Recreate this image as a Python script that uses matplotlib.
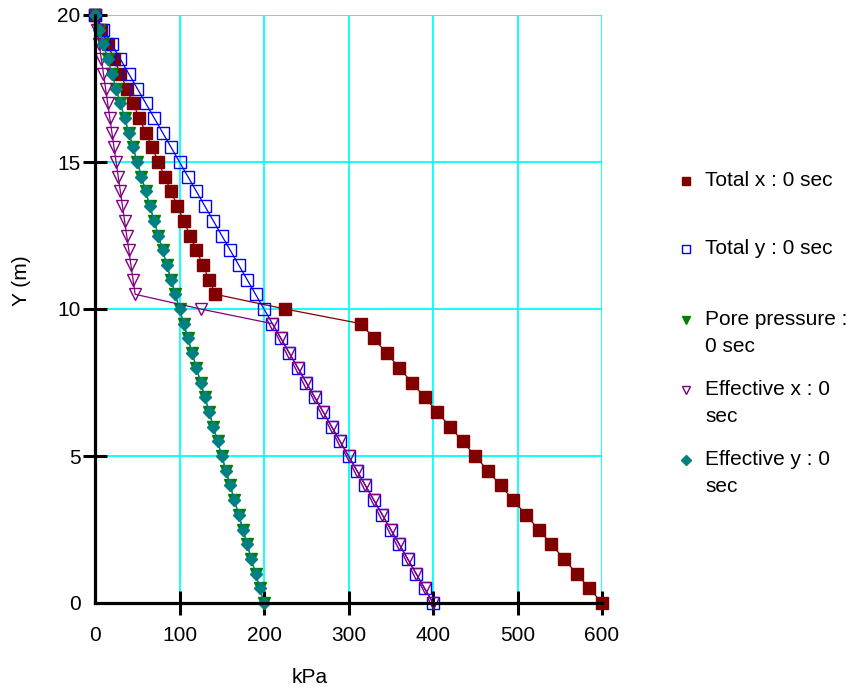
import matplotlib
matplotlib.use("Agg")
import matplotlib.pyplot as plt
from matplotlib.lines import Line2D

# ---------------------------------------------
# Data
# ---------------------------------------------
y_m = [20, 19.5, 19, 18.5, 18, 17.5, 17, 16.5, 16, 15.5, 15, 14.5, 14, 13.5, 13,
       12.5, 12, 11.5, 11, 10.5, 10, 9.5, 9, 8.5, 8, 7.5, 7, 6.5, 6, 5.5, 5,
       4.5, 4, 3.5, 3, 2.5, 2, 1.5, 1, 0.5, 0]

total_x = [0, 7.5, 15, 22.5, 30, 37.5, 45, 52.5, 60, 67.5, 75, 82.5, 90, 97.5, 105,
           112.5, 120, 127.5, 135, 142.5, 225, 315, 330, 345, 360, 375, 390, 405,
           420, 435, 450, 465, 480, 495, 510, 525, 540, 555, 570, 585, 600]

total_y = [0, 10, 20, 30, 40, 50, 60, 70, 80, 90, 100, 110, 120, 130, 140, 150,
           160, 170, 180, 190, 200, 210, 220, 230, 240, 250, 260, 270, 280, 290,
           300, 310, 320, 330, 340, 350, 360, 370, 380, 390, 400]

pore_pressure = [0, 5, 10, 15, 20, 25, 30, 35, 40, 45, 50, 55, 60, 65, 70, 75, 80,
                 85, 90, 95, 100, 105, 110, 115, 120, 125, 130, 135, 140, 145, 150,
                 155, 160, 165, 170, 175, 180, 185, 190, 195, 200]

effective_x = [0, 2.5, 5, 7.5, 10, 12.5, 15, 17.5, 20, 22.5, 25, 27.5, 30, 32.5, 35,
               37.5, 40, 42.5, 45, 47.5, 125, 210, 220, 230, 240, 250, 260, 270,
               280, 290, 300, 310, 320, 330, 340, 350, 360, 370, 380, 390, 400]

effective_y = [0, 5, 10, 15, 20, 25, 30, 35, 40, 45, 50, 55, 60, 65, 70, 75, 80,
               85, 90, 95, 100, 105, 110, 115, 120, 125, 130, 135, 140, 145, 150,
               155, 160, 165, 170, 175, 180, 185, 190, 195, 200]

labels = ["Total x : 0 sec", "Total y : 0 sec", "Pore pressure :\n0 sec",
          "Effective x : 0\nsec", "Effective y : 0\nsec"]

plt.rcParams["font.family"] = ["Liberation Sans", "DejaVu Sans"]

# ---------------------------------------------
# Figure / axes
# ---------------------------------------------
fig = plt.figure(figsize=(8.51, 6.87), dpi=100)
ax = fig.add_axes([95 / 851, 84 / 687, 507 / 851, 588 / 687])

series = [
    (total_x, dict(color="#800000", marker="s", mfc="#800000", mec="#800000", ms=8)),
    (total_y, dict(color="#0000FF", marker="s", mfc="none", mec="#0000FF", ms=8)),
    (pore_pressure, dict(color="#008000", marker="v", mfc="#008000", mec="#008000", ms=8)),
    (effective_x, dict(color="#800080", marker="v", mfc="none", mec="#800080", ms=8)),
    (effective_y, dict(color="#008080", marker="D", mfc="#008080", mec="#008080", ms=6.5)),
]

for vals, st in series:
    ax.plot(vals, y_m, lw=0.9, mew=1.0, clip_on=False, zorder=3, **st)

ax.set_xlim(0, 600)
ax.set_ylim(0, 20)
ax.set_xticks([0, 100, 200, 300, 400, 500, 600])
ax.set_yticks([0, 5, 10, 15, 20])
ax.grid(True, color="#00FFFF", lw=1.3)
ax.set_axisbelow(True)

for side in ["top", "right"]:
    ax.spines[side].set_visible(False)
for side in ["left", "bottom"]:
    ax.spines[side].set_linewidth(2.3)
    ax.spines[side].set_zorder(4)

ax.tick_params(direction="inout", length=17, width=2.2, labelsize=15,
               colors="black")
ax.tick_params(axis="x", pad=8)
ax.tick_params(axis="y", pad=2)
ax.xaxis.get_major_ticks()[0].tick1line.set_visible(False)
ax.yaxis.get_major_ticks()[0].tick1line.set_visible(False)

ax.set_xlabel("kPa", fontsize=15, va="center")
ax.set_ylabel("Y (m)", fontsize=15, va="center")
ax.xaxis.set_label_coords(0.424, -0.126)
ax.yaxis.set_label_coords(-0.144, 0.548)

# ---------------------------------------------
# Legend, placed by hand on the right
# ---------------------------------------------
tops = [181, 249, 320, 390, 460]
for (vals, st), lab, ty in zip(series, labels, tops):
    yf = 1 - ty / 687
    fig.add_artist(Line2D([686 / 851], [yf], lw=0, mew=1.0,
                          transform=fig.transFigure, marker=st["marker"],
                          mfc=st["mfc"], mec=st["mec"], ms=st["ms"] * 0.8,
                          color=st["color"]))
    fig.text(705 / 851, yf + 10 / 687, lab, fontsize=15, va="top", ha="left",
             linespacing=1.55, transform=fig.transFigure)

fig.savefig("out.png", dpi=100)
